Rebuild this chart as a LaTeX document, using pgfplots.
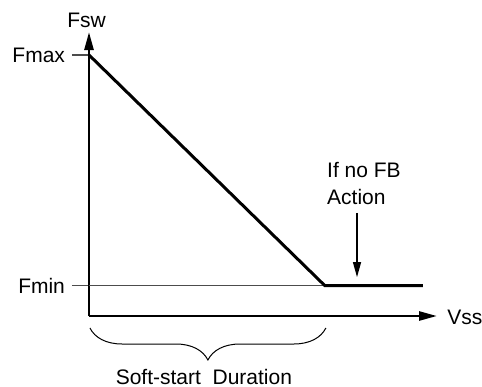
\documentclass[border=0pt]{standalone}
\usepackage{pgfplots}
\pgfplotsset{compat=1.18}
\usepackage{fontspec}
\setmainfont{Liberation Sans}
\usetikzlibrary{arrows.meta,decorations.pathreplacing}

\begin{document}
\begin{tikzpicture}[font=\fontsize{10.5}{13.5}\selectfont]
% frame of the reference picture around the axis origin
\useasboundingbox (-44.5pt,-35pt) rectangle (196.5pt,158pt);
\begin{axis}[
    scale only axis,
    width=174pt, height=142pt,
    xmin=0, xmax=14.75,
    ymin=0, ymax=108.8,
    axis lines=left,
    axis line style={line width=1.3pt, -{Triangle[length=9pt,width=4.5pt]}},
    xtick=\empty,
    ytick={11.6,100},
    yticklabels={Fmin,Fmax},
    tick align=outside,
    major tick length=8.5pt,
    ytick style={black!70, line width=0.7pt},
    clip=false,
]
    % Fmin reference level
    \addplot[black!70, line width=0.7pt] coordinates {(0,11.6) (10,11.6)};
    % soft-start frequency
    \addplot[black, line width=1.5pt] coordinates {(0,100) (10,11.6) (14.15,11.6)};

    \draw[line width=0.65pt, -{Triangle[length=7.5pt,width=4pt]}]
        (axis cs:11.36,39.5) -- (axis cs:11.36,14.9);
    \node[anchor=north west, inner sep=0pt, align=left] at (axis cs:10.08,59) {If no FB\\Action};

    \draw[decorate, decoration={brace, mirror, amplitude=16pt}, line width=0.5pt]
        ([yshift=-6pt]axis cs:0.04,0) -- ([yshift=-6pt]axis cs:10.04,0);
    \node[inner sep=0pt] at ([yshift=-30.5pt]axis cs:4.87,0) {Soft-start~ Duration};

    \node[anchor=west, inner sep=0pt] at ([xshift=5pt,yshift=-0.5pt]axis cs:14.75,0) {Vss};
    \node[inner sep=0pt] at ([xshift=-1.25pt,yshift=148pt]axis cs:0,0) {Fsw};
\end{axis}
\end{tikzpicture}
\end{document}
